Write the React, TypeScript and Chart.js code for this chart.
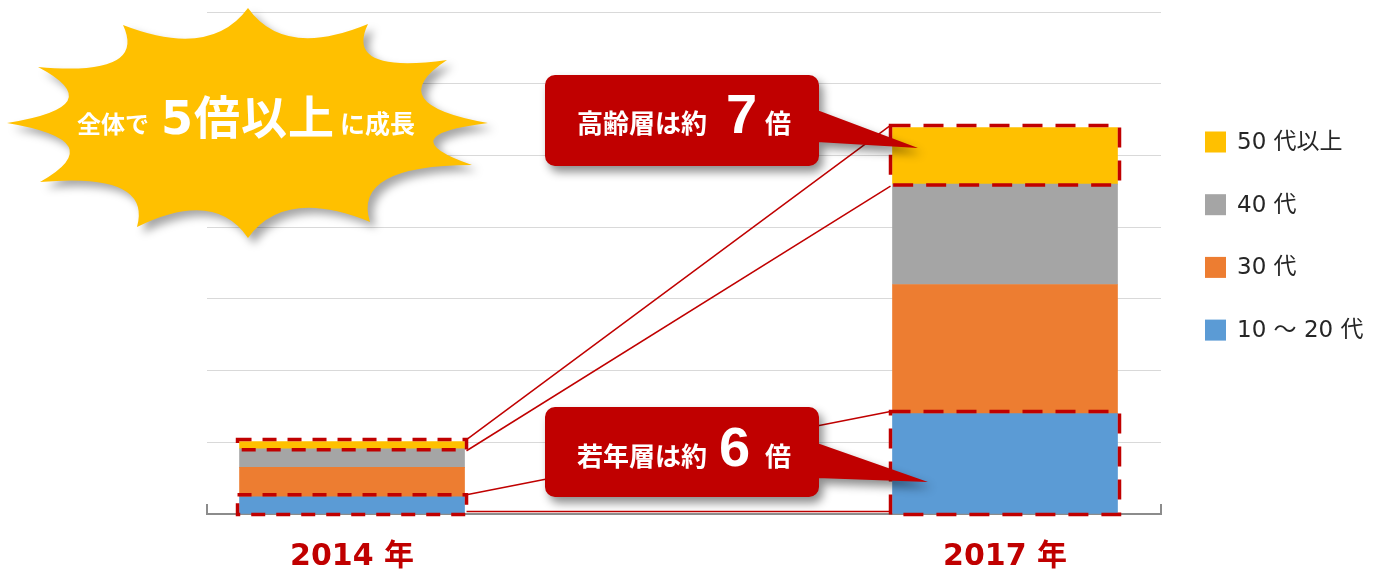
import { useEffect, useRef } from 'react';
import { Chart, registerables } from 'chart.js';

Chart.register(...registerables);

// ---- data ----
const categories = ['2014 年', '2017 年'];
const seriesLabels = ['10 ～ 20 代', '30 代', '40 代', '50 代以上'];
const seriesColors = ['#5B9BD5', '#ED7D31', '#A5A5A5', '#FFC000'];
const age10to20 = [24, 140];
const age30 = [41, 180];
const age40 = [26, 140];
const age50plus = [10, 79];
const seriesValues = [age10to20, age30, age40, age50plus];
const yMax = 700;
const yStep = 100;
const burstText = ['全体で', '5倍以上', 'に成長'];
const calloutOld = ['高齢層は約', '7', '倍'];
const calloutYoung = ['若年層は約', '6', '倍'];

const RED = '#C00000';
const CJK = '"Noto Sans CJK JP", sans-serif';
const WIDE = '"DejaVu Sans", "Noto Sans CJK JP", sans-serif';

function segBox(chart: any, di: number, i: number) {
  const el = chart.getDatasetMeta(di).data[i];
  const p = el.getProps(['x', 'y', 'base', 'width'], true);
  return {
    l: p.x - p.width / 2,
    r: p.x + p.width / 2,
    t: Math.min(p.y, p.base),
    b: Math.max(p.y, p.base),
  };
}

function drawBurst(ctx: CanvasRenderingContext2D) {
  const c = { x: 248, y: 123 };
  const pts = [
    [248, 8], [368, 24], [447, 60], [488, 123], [472, 165], [370, 222],
    [248, 238], [137, 227], [40, 182], [7, 123], [38, 67], [123, 25],
  ];
  ctx.save();
  ctx.shadowColor = 'rgba(0,0,0,0.35)';
  ctx.shadowBlur = 8;
  ctx.shadowOffsetX = 6;
  ctx.shadowOffsetY = 6;
  ctx.fillStyle = '#FFC000';
  ctx.beginPath();
  ctx.moveTo(pts[0][0], pts[0][1]);
  for (let k = 0; k < pts.length; k++) {
    const a = pts[k];
    const b = pts[(k + 1) % pts.length];
    const mx = (a[0] + b[0]) / 2;
    const my = (a[1] + b[1]) / 2;
    const f = 0.6;
    ctx.quadraticCurveTo(c.x + (mx - c.x) * f, c.y + (my - c.y) * f, b[0], b[1]);
  }
  ctx.closePath();
  ctx.fill();
  ctx.restore();

  ctx.save();
  ctx.fillStyle = '#ffffff';
  ctx.textBaseline = 'alphabetic';
  ctx.textAlign = 'left';
  ctx.font = `bold 24px ${CJK}`;
  ctx.fillText(burstText[0], 77, 133);
  ctx.font = `bold 46px ${WIDE}`;
  (ctx as any).letterSpacing = '1px';
  ctx.fillText(burstText[1], 161, 134);
  (ctx as any).letterSpacing = '0px';
  ctx.font = `bold 25px ${CJK}`;
  ctx.fillText(burstText[2], 340, 133);
  ctx.restore();
}

function drawCallout(
  ctx: CanvasRenderingContext2D,
  box: { x: number; y: number; w: number; h: number },
  tail: { y1: number; y2: number; tx: number; ty: number },
  parts: string[],
  baseline: number,
  xs: number[]
) {
  ctx.save();
  ctx.shadowColor = 'rgba(0,0,0,0.45)';
  ctx.shadowBlur = 10;
  ctx.shadowOffsetX = 4;
  ctx.shadowOffsetY = 6;
  ctx.fillStyle = RED;
  ctx.beginPath();
  ctx.roundRect(box.x, box.y, box.w, box.h, 10);
  ctx.moveTo(box.x + box.w - 2, tail.y1);
  ctx.lineTo(tail.tx, tail.ty);
  ctx.lineTo(box.x + box.w - 2, tail.y2);
  ctx.closePath();
  ctx.fill();
  ctx.restore();

  ctx.save();
  ctx.fillStyle = '#ffffff';
  ctx.textBaseline = 'alphabetic';
  ctx.textAlign = 'left';
  ctx.font = `bold 26px ${CJK}`;
  ctx.fillText(parts[0], xs[0], baseline);
  ctx.font = `bold 56px "Liberation Sans", Arial, sans-serif`;
  ctx.fillText(parts[1], xs[1], baseline);
  ctx.font = `bold 26px ${CJK}`;
  ctx.fillText(parts[2], xs[2], baseline);
  ctx.restore();
}

const overlayPlugin = {
  id: 'overlay',
  afterDatasetsDraw(chart: any) {
    const ctx: CanvasRenderingContext2D = chart.ctx;
    const area = chart.chartArea;

    // small edge ticks on the axis
    ctx.save();
    ctx.strokeStyle = '#8c8c8c';
    ctx.lineWidth = 2;
    [area.left, area.right].forEach((x: number) => {
      ctx.beginPath();
      ctx.moveTo(x, area.bottom);
      ctx.lineTo(x, area.bottom - 10);
      ctx.stroke();
    });
    ctx.restore();

    const o = 2;
    const y0 = segBox(chart, 3, 0);
    const y1 = segBox(chart, 3, 1);
    const b0 = segBox(chart, 0, 0);
    const b1 = segBox(chart, 0, 1);

    // connecting lines
    ctx.save();
    ctx.strokeStyle = RED;
    ctx.lineWidth = 1.5;
    const lines = [
      [y0.r + o, y0.t - o, y1.l - o, y1.t - o],
      [y0.r + o, y0.b + o, y1.l - o, y1.b + o],
      [b0.r + o, b0.t - o, b1.l - o, b1.t - o],
      [b0.r + o, b0.b - 2, b1.l - o, b1.b - 2],
    ];
    lines.forEach((l) => {
      ctx.beginPath();
      ctx.moveTo(l[0], l[1]);
      ctx.lineTo(l[2], l[3]);
      ctx.stroke();
    });
    ctx.restore();

    // dashed boxes
    ctx.save();
    ctx.strokeStyle = RED;
    ctx.lineWidth = 3.5;
    [[y0, [14, 11]], [b0, [14, 11]], [y1, [20, 13]], [b1, [20, 13]]].forEach((e: any) => {
      const s = e[0];
      ctx.setLineDash(e[1]);
      ctx.strokeRect(s.l - o, s.t - o, s.r - s.l + 2 * o, s.b - s.t + 2 * o - 1);
    });
    ctx.restore();

    // callouts
    drawCallout(
      ctx,
      { x: 545, y: 75, w: 274, h: 91 },
      { y1: 110, y2: 142, tx: 918, ty: 148 },
      calloutOld,
      133,
      [577, 726, 765]
    );
    drawCallout(
      ctx,
      { x: 545, y: 407, w: 274, h: 90 },
      { y1: 443, y2: 478, tx: 928, ty: 482 },
      calloutYoung,
      466,
      [577, 719, 765]
    );

    // starburst
    drawBurst(ctx);

    // legend (reverse order, top = last series)
    ctx.save();
    ctx.textBaseline = 'middle';
    ctx.textAlign = 'left';
    ctx.font = `23px ${WIDE}`;
    const n = seriesLabels.length;
    for (let k = 0; k < n; k++) {
      const di = n - 1 - k;
      const cy = 142 + k * 62.7;
      ctx.fillStyle = seriesColors[di];
      ctx.fillRect(1205, cy - 10.5, 21, 21);
      ctx.fillStyle = '#262626';
      ctx.fillText(seriesLabels[di], 1237, cy + 1);
    }
    ctx.restore();
  },
};

export default function App() {
  const ref = useRef<HTMLCanvasElement | null>(null);
  useEffect(() => {
    if (!ref.current) return;
    const chart = new Chart(ref.current, {
      type: 'bar',
      data: {
        datasets: seriesValues.map((vals, di) => ({
          label: seriesLabels[di],
          data: vals.map((v, i) => ({ x: i, y: v })),
          backgroundColor: seriesColors[di],
          borderWidth: 0,
          barThickness: 225,
        })),
      },
      options: {
        animation: false,
        responsive: true,
        maintainAspectRatio: false,
        layout: { padding: { left: 207, right: 225, top: 12, bottom: -27 } },
        plugins: { legend: { display: false }, tooltip: { enabled: false } },
        scales: {
          x: {
            type: 'linear',
            stacked: true,
            offset: false,
            min: -0.2221,
            max: 1.2389,
            afterBuildTicks: (s: any) => {
              s.ticks = categories.map((_, i) => ({ value: i }));
            },
            grid: { display: false, drawTicks: false, offset: false },
            border: { color: '#8c8c8c', width: 2 },
            ticks: {
              callback: (v: any) => categories[v] ?? '',
              color: RED,
              font: { family: WIDE, size: 30, weight: 'bold' },
              padding: 25,
              maxRotation: 0,
              autoSkip: false,
            },
          },
          y: {
            stacked: true,
            min: 0,
            max: yMax,
            ticks: { display: false, stepSize: yStep },
            grid: { color: '#d9d9d9', lineWidth: 1, drawTicks: false },
            border: { display: false },
          },
        },
      } as any,
      plugins: [overlayPlugin],
    });
    return () => chart.destroy();
  }, []);
  return (
    <div style={{ position: 'fixed', left: 0, top: 0, width: 1386, height: 573, background: '#fff' }}>
      <canvas ref={ref} />
    </div>
  );
}
